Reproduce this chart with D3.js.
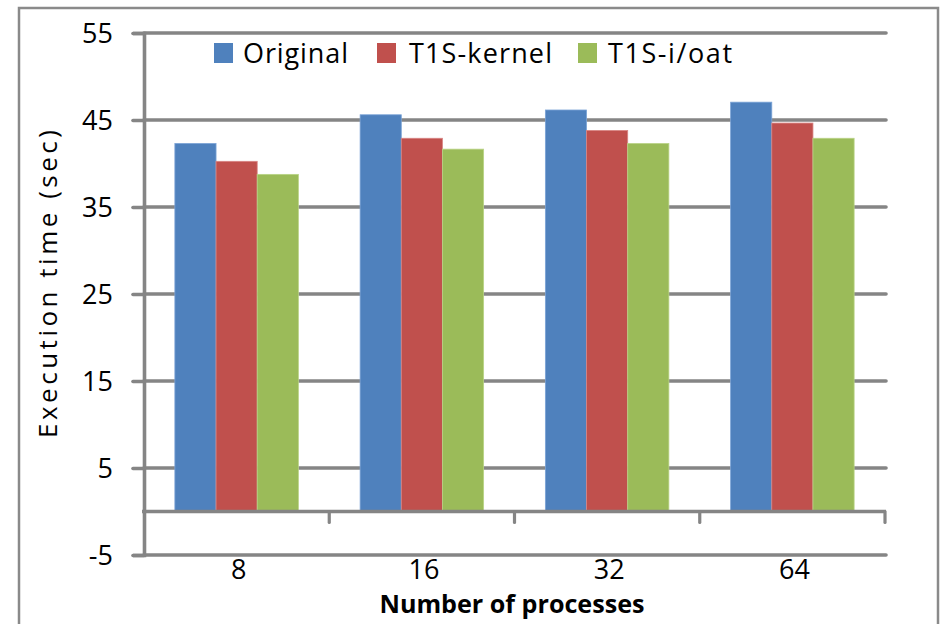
<!DOCTYPE html>
<html>
<head>
<meta charset="utf-8">
<script src="https://cdn.jsdelivr.net/npm/d3@7"></script>
<style>
  html, body { margin: 0; padding: 0; background: #fff; }
  svg { display: block; }
  text { font-family: "Open Sans", "DejaVu Sans", sans-serif; fill: #000; }
</style>
</head>
<body>
<svg id="chart" width="940" height="624"></svg>
<script>
// Execution time per process count for each variant
const categories = ["8", "16", "32", "64"];
const seriesNames = ["Original", "T1S-kernel", "T1S-i/oat"];
const original   = [42.3, 45.6, 46.15, 47.05];
const t1sKernel  = [40.25, 42.9, 43.8, 44.65];
const t1sIoat    = [38.75, 41.65, 42.3, 42.9];
const yTicks = [-5, 5, 15, 25, 35, 45, 55];
const colors = ["#4F81BD", "#C0504D", "#9BBB59"];
const edgeColors = ["#7BA3D6", "#D98584", "#B9D386"];

const seriesValues = [original, t1sKernel, t1sIoat];
const gridColor = "#858585";

const svg = d3.select("#chart");

// outer chart frame
svg.append("rect")
  .attr("x", 19).attr("y", 8)
  .attr("width", 919).attr("height", 630)
  .attr("fill", "none")
  .attr("stroke", "#8a8a8a")
  .attr("stroke-width", 2.5);

const plotLeft = 144, plotRight = 885;
const y = d3.scaleLinear().domain([-5, 55]).range([555, 33]);
const x = d3.scaleBand().domain(categories).range([plotLeft, plotRight]).paddingInner(0).paddingOuter(0);
const inner = d3.scaleBand().domain(seriesNames)
  .range([0, x.bandwidth()]).paddingInner(0).paddingOuter(0.75);

// horizontal gridlines
svg.append("g").selectAll("line")
  .data(yTicks)
  .join("line")
  .attr("x1", plotLeft).attr("x2", plotRight + 1)
  .attr("y1", d => y(d)).attr("y2", d => y(d))
  .attr("stroke", gridColor)
  .attr("stroke-width", 3.6)
  .attr("stroke-linecap", "round");

// bars
const groups = svg.append("g").selectAll("g")
  .data(categories)
  .join("g")
  .attr("transform", d => `translate(${x(d)},0)`);

groups.selectAll("rect")
  .data((c, i) => seriesNames.map((s, k) => ({ s, k, v: seriesValues[k][i] })))
  .join("rect")
  .attr("x", d => inner(d.s))
  .attr("width", inner.bandwidth())
  .attr("y", d => y(d.v))
  .attr("height", d => y(0) - y(d.v))
  .attr("fill", d => colors[d.k])
  .attr("stroke", d => edgeColors[d.k])
  .attr("stroke-width", 0.8);

// y axis with outward ticks
const yAxis = svg.append("g")
  .attr("transform", `translate(${plotLeft},0)`)
  .call(d3.axisLeft(y).tickValues(yTicks).tickSize(11).tickPadding(20).tickFormat(d => String(d)));
yAxis.select(".domain").attr("stroke", gridColor).attr("stroke-width", 3.6);
yAxis.selectAll(".tick line").attr("stroke", gridColor).attr("stroke-width", 3.6).attr("stroke-linecap", "round");
yAxis.selectAll(".tick text")
  .attr("font-size", 27)
  .attr("font-family", "'Open Sans', sans-serif")
  .attr("dy", "0.36em")
  .attr("fill", "#000");

// category axis at zero with boundary ticks
const zeroY = y(0);
svg.append("line")
  .attr("x1", plotLeft - 2).attr("x2", plotRight + 1)
  .attr("y1", zeroY).attr("y2", zeroY)
  .attr("stroke", gridColor).attr("stroke-width", 3.6);
const boundaries = categories.map(c => x(c) + x.bandwidth());
svg.append("g").selectAll("line")
  .data(boundaries)
  .join("line")
  .attr("x1", d => d).attr("x2", d => d)
  .attr("y1", zeroY).attr("y2", zeroY + 11)
  .attr("stroke", gridColor).attr("stroke-width", 3.2).attr("stroke-linecap", "round");

// category labels below the plot
const xAxis = svg.append("g")
  .attr("transform", `translate(0,${y(-5)})`)
  .call(d3.axisBottom(x).tickSize(0).tickPadding(5));
xAxis.select(".domain").remove();
xAxis.selectAll(".tick text")
  .attr("font-size", 27)
  .attr("font-family", "'Open Sans', sans-serif")
  .attr("dx", 2)
  .attr("fill", "#000");

// axis titles
svg.append("text")
  .attr("transform", "translate(57,284) rotate(-90)")
  .attr("text-anchor", "middle")
  .attr("font-size", 26)
  .attr("textLength", 308)
  .attr("lengthAdjust", "spacing")
  .text("Execution time (sec)");

svg.append("text")
  .attr("x", 512).attr("y", 613)
  .attr("text-anchor", "middle")
  .attr("font-size", 25)
  .attr("font-weight", "bold")
  .attr("textLength", 265)
  .attr("lengthAdjust", "spacingAndGlyphs")
  .text("Number of processes");

// legend
const legendItems = [
  { name: seriesNames[0], sx: 214, tx: 243, w: 105 },
  { name: seriesNames[1], sx: 377, tx: 409, w: 143 },
  { name: seriesNames[2], sx: 578, tx: 608, w: 124 }
];
const legend = svg.append("g");
legend.selectAll("rect")
  .data(legendItems)
  .join("rect")
  .attr("x", d => d.sx).attr("y", 43)
  .attr("width", 19).attr("height", 20)
  .attr("fill", (d, i) => colors[i]);
legend.selectAll("text")
  .data(legendItems)
  .join("text")
  .attr("x", d => d.tx).attr("y", 63)
  .attr("font-size", 27)
  .attr("textLength", d => d.w)
  .attr("lengthAdjust", "spacing")
  .text(d => d.name);
</script>
</body>
</html>
